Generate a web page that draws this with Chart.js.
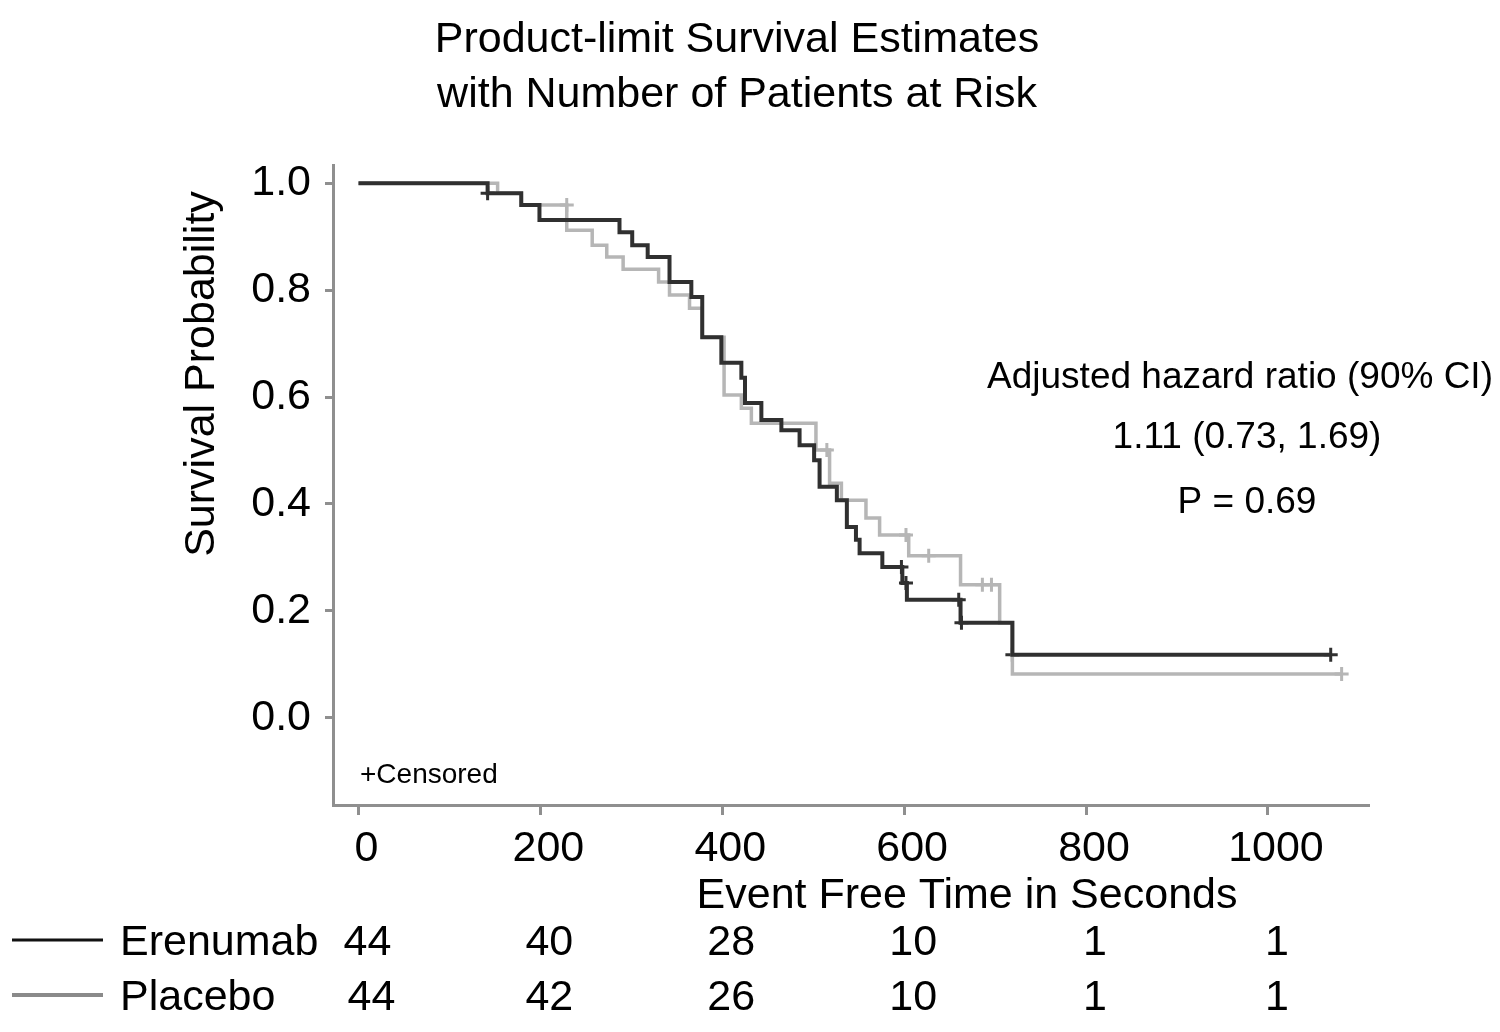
<!DOCTYPE html>
<html>
<head>
<meta charset="utf-8">
<script src="https://cdn.jsdelivr.net/npm/chart.js@4"></script>
<style>
html,body{margin:0;padding:0;background:#fff}
#wrap{width:1500px;height:1032px}
</style>
</head>
<body>
<div id="wrap"><canvas id="km"></canvas></div>
<script>
// survival curves (time in seconds, survival probability)
const erenumabTime = [0,142,179,199,287,301,318,342,366,378,399,421,425,443,465,485,501,507,526,537,547,551,576,598,603,662,719,1069]
const erenumabSurv = [1.0,0.981,0.959,0.931,0.908,0.884,0.862,0.815,0.787,0.712,0.664,0.636,0.589,0.557,0.538,0.510,0.482,0.432,0.407,0.357,0.333,0.308,0.282,0.252,0.221,0.178,0.118,0.118]
const placeboTime = [0,153,179,229,257,273,291,330,342,364,378,402,421,432,503,518,531,558,573,605,662,705,719,1081]
const placeboSurv = [1.0,0.981,0.959,0.912,0.884,0.862,0.839,0.815,0.791,0.766,0.712,0.604,0.579,0.551,0.501,0.439,0.407,0.374,0.342,0.303,0.249,0.178,0.082,0.082]

// censored observations
const erenumabCensTime = [142,597,602,660,663,719,1069]
const erenumabCensSurv = [0.981,0.282,0.252,0.221,0.178,0.118,0.118]
const placeboCensTime = [229,515,602,627,686,696,1081]
const placeboCensSurv = [0.959,0.501,0.342,0.303,0.249,0.249,0.082]

// axes
const xTicks = [0,200,400,600,800,1000]
const yTicks = [0,0.2,0.4,0.6,0.8,1.0]

// number at risk
const riskTimes = [0,200,400,600,800,1000]
const riskErenumab = [44,40,28,10,1,1]
const riskPlacebo = [44,42,26,10,1,1]

const FONT = '"Liberation Sans", Arial, sans-serif'
const DARK = '#303030'
const LIGHT = '#b6b6b6'
const AXIS = '#8f8f8f'

function pts(t,s){
return t.map((v,i)=>({x:v,y:s[i]}))
}

const textPlugin = {
id:'kmText',
afterDraw(chart){
const ctx = chart.ctx
const x = chart.scales.x
ctx.save()
ctx.fillStyle = '#000'

// title
ctx.font = '43px ' + FONT
ctx.textAlign = 'center'
ctx.textBaseline = 'alphabetic'
ctx.fillText('Product-limit Survival Estimates', 737, 52)
ctx.fillText('with Number of Patients at Risk', 737, 107)

// axis titles
ctx.fillText('Event Free Time in Seconds', 967, 908)
ctx.save()
ctx.translate(214, 374)
ctx.rotate(-Math.PI/2)
ctx.fillText('Survival Probability', 0, 0)
ctx.restore()

// hazard ratio note
ctx.font = '37px ' + FONT
ctx.fillText('Adjusted hazard ratio (90% CI)', 1240, 388)
ctx.fillText('1.11 (0.73, 1.69)', 1247, 448)
ctx.fillText('P = 0.69', 1247, 513)

ctx.font = '28px ' + FONT
ctx.textAlign = 'left'
ctx.fillText('+Censored', 360, 783)

// risk table
ctx.lineWidth = 3
ctx.strokeStyle = '#111'
ctx.beginPath(); ctx.moveTo(12, 940); ctx.lineTo(103, 940); ctx.stroke()
ctx.strokeStyle = '#8a8a8a'
ctx.lineWidth = 4
ctx.beginPath(); ctx.moveTo(12, 995); ctx.lineTo(103, 995); ctx.stroke()

ctx.font = '43px ' + FONT
ctx.fillText('Erenumab', 120, 955)
ctx.fillText('Placebo', 120, 1010)
ctx.textAlign = 'center'
riskTimes.forEach((t,i)=>{
let px = x.getPixelForValue(t) + 9
ctx.fillText(String(riskErenumab[i]), px, 955)
ctx.fillText(String(riskPlacebo[i]), px + (i==0 ? 4 : 0), 1010)
})
ctx.restore()
}
}

new Chart(document.getElementById('km'),{
type:'line',
data:{
datasets:[
{label:'Erenumab',data:pts(erenumabTime,erenumabSurv),stepped:true,borderColor:DARK,borderWidth:4,pointRadius:0,fill:false},
{label:'Placebo',data:pts(placeboTime,placeboSurv),stepped:true,borderColor:LIGHT,borderWidth:3.5,pointRadius:0,fill:false},
{label:'Erenumab censored',data:pts(erenumabCensTime,erenumabCensSurv),showLine:false,pointStyle:'cross',pointRadius:7,borderColor:DARK,borderWidth:3},
{label:'Placebo censored',data:pts(placeboCensTime,placeboCensSurv),showLine:false,pointStyle:'cross',pointRadius:7,borderColor:LIGHT,borderWidth:3}
]
},
options:{
responsive:true,
maintainAspectRatio:false,
animation:false,
layout:{padding:{top:165,right:132,left:0,bottom:0}},
plugins:{legend:{display:false},title:{display:false},tooltip:{enabled:false}},
scales:{
x:{
type:'linear',
min:-28,max:1110,
afterBuildTicks:s=>{s.ticks=xTicks.map(v=>({value:v}))},
afterFit:s=>{s.height=227},
grid:{drawOnChartArea:false,tickLength:10,color:AXIS,lineWidth:3},
border:{color:AXIS,width:3},
ticks:{font:{size:43,family:FONT},color:'#000',padding:8,labelOffset:8,maxRotation:0,callback:v=>String(v)}
},
y:{
min:-0.163,max:1.034,
afterBuildTicks:s=>{s.ticks=yTicks.map(v=>({value:v}))},
afterFit:s=>{s.width=333},
grid:{drawOnChartArea:false,tickLength:8,color:AXIS,lineWidth:3},
border:{color:AXIS,width:3},
ticks:{font:{size:43,family:FONT},color:'#000',padding:14,callback:v=>v.toFixed(1)}
}
}
},
plugins:[textPlugin]
})
</script>
</body>
</html>
